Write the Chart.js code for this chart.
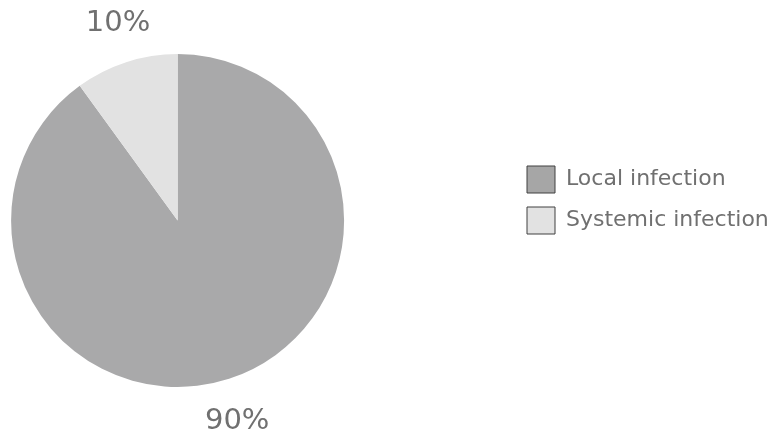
<!DOCTYPE html>
<html lang="en">
<head>
  <meta charset="UTF-8">
  <title>Infection type</title>
  <script src="https://cdn.jsdelivr.net/npm/chart.js@4"></script>
  <style>
    html, body { margin: 0; padding: 0; background: #fff; }
    #wrap { width: 784px; height: 444px; }
  </style>
</head>
<body>

<div id="wrap">
  <canvas id="pieChart" width="784" height="444"></canvas>
</div>

<script>
  const categories = ['Local infection', 'Systemic infection'];
  const shares = [90, 10];
  const sliceColors = ['#a9a9aa', '#e2e2e2'];
  const legendColors = ['#a6a6a6', '#e2e2e2'];
  const textGray = '#707070';

  // percentage labels outside each slice (pulled a little toward the vertical)
  const outsideLabels = {
    id: 'outsideLabels',
    afterDatasetsDraw(chart) {
      const ctx = chart.ctx;
      const meta = chart.getDatasetMeta(0);
      const total = shares.reduce((a, b) => a + b, 0);
      ctx.save();
      ctx.font = '29px "DejaVu Sans", sans-serif';
      ctx.fillStyle = textGray;
      ctx.textAlign = 'center';
      ctx.textBaseline = 'middle';
      meta.data.forEach((arc, i) => {
        const p = arc.getProps(['x', 'y', 'startAngle', 'endAngle', 'outerRadius'], true);
        const mid = (p.startAngle + p.endAngle) / 2;
        const r = p.outerRadius + 43;
        const txt = Math.round(shares[i] / total * 100) + '%';
        ctx.fillText(txt, p.x + Math.cos(mid) * r * 0.92, p.y + Math.sin(mid) * r + 2);
      });
      ctx.restore();
    }
  };

  // the legend stands well to the right of the pie, not right next to it
  const legendShift = {
    id: 'legendShift',
    afterLayout(chart) {
      const lg = chart.legend;
      const pad = lg.options.labels.padding;
      lg.left = 527 - pad;
      lg.right = lg.left + lg.width;
      lg.top = 166 - pad;
      lg.bottom = chart.height;
    }
  };

  const ctx = document.getElementById('pieChart').getContext('2d');

  new Chart(ctx, {
    type: 'pie',
    data: {
      labels: categories,
      datasets: [{
        data: shares,
        backgroundColor: sliceColors,
        borderWidth: 0
      }]
    },
    options: {
      responsive: false,
      animation: false,
      layout: {
        padding: { top: 54, bottom: 57, left: 11, right: 174 }
      },
      plugins: {
        tooltip: { enabled: false },
        legend: {
          position: 'right',
          align: 'start',
          labels: {
            boxWidth: 28,
            boxHeight: 27,
            padding: 14,
            color: textGray,
            font: { family: '"DejaVu Sans", sans-serif', size: 22 },
            generateLabels(chart) {
              const items = Chart.overrides.doughnut.plugins.legend.labels.generateLabels(chart);
              items.forEach((it, i) => {
                it.fillStyle = legendColors[i];
                it.strokeStyle = '#404040';
                it.lineWidth = 1;
              });
              return items;
            }
          }
        }
      }
    },
    plugins: [outsideLabels, legendShift]
  });
</script>

</body>
</html>
